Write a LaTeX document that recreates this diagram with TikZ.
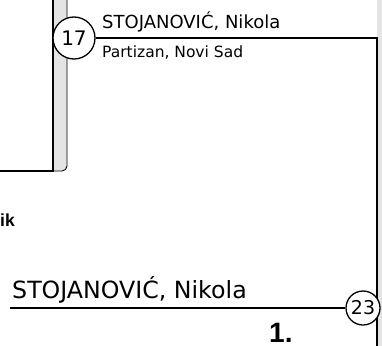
\documentclass[tikz,border=0pt]{standalone}
\usepackage{fontspec}
\setmainfont{DejaVu Sans}
\newfontfamily\numfont{Liberation Sans}
\usepackage{xcolor}
\usepackage{tikz}
\usetikzlibrary{positioning, backgrounds}
\definecolor{bargray}{HTML}{E4E4E4}

\begin{document}
\begin{tikzpicture}[x=1pt, y=-1pt,
  line/.style={line width=2pt},
  seed/.style={circle, draw, line width=1.3pt, fill=white, inner sep=0pt},
  label/.style={anchor=base west, inner sep=0pt}]
  \useasboundingbox (0,0) rectangle (382,345);
  % corners of the brackets
  \coordinate (L0) at (0,171);
  \coordinate (L1) at (53,171);
  \coordinate (L2) at (53,-5);
  \coordinate (R1) at (377,38);
  \coordinate (R2) at (377,350);
  \coordinate (W) at (10,308);
  \node[seed, minimum size=42pt, font=\fontsize{20}{22}\selectfont] (S17) at (74,38) {17};
  \node[seed, minimum size=34pt, font=\fontsize{19}{21}\selectfont] (S23) at (363,308) {23};
  \node[label, font=\fontsize{18}{20}\selectfont] (Name17) at (102,29) {STOJANOVIĆ, Nikola};
  \node[label, font=\fontsize{15.5}{17}\selectfont] (Club17) at (102,57) {Partizan, Novi Sad};
  \node[anchor=base east, inner sep=0pt, font=\numfont\bfseries\fontsize{17.5}{19}\selectfont] (Round) at (15,226) {ik};
  \node[label, font=\fontsize{23.7}{26}\selectfont] (Winner) at (12,298) {STOJANOVIĆ, Nikola};
  \node[label, font=\numfont\bfseries\fontsize{28}{30}\selectfont] (Place) at (269,342) {1.};
  \begin{scope}[on background layer]
    % gray bars
    \draw[fill=bargray, line width=0.9pt, rounded corners=5pt] (53,-5) -- (67,-5) -- (67,171) -- (53,171);
    \fill[bargray] (377,-5) rectangle (390,350);
    \draw[line] (L0) -- (L1) -- (L2);
    \draw[line] (S17) -- (R1) -- (R2);
    \draw[line] (W) -- (S23);
  \end{scope}
\end{tikzpicture}
\end{document}
